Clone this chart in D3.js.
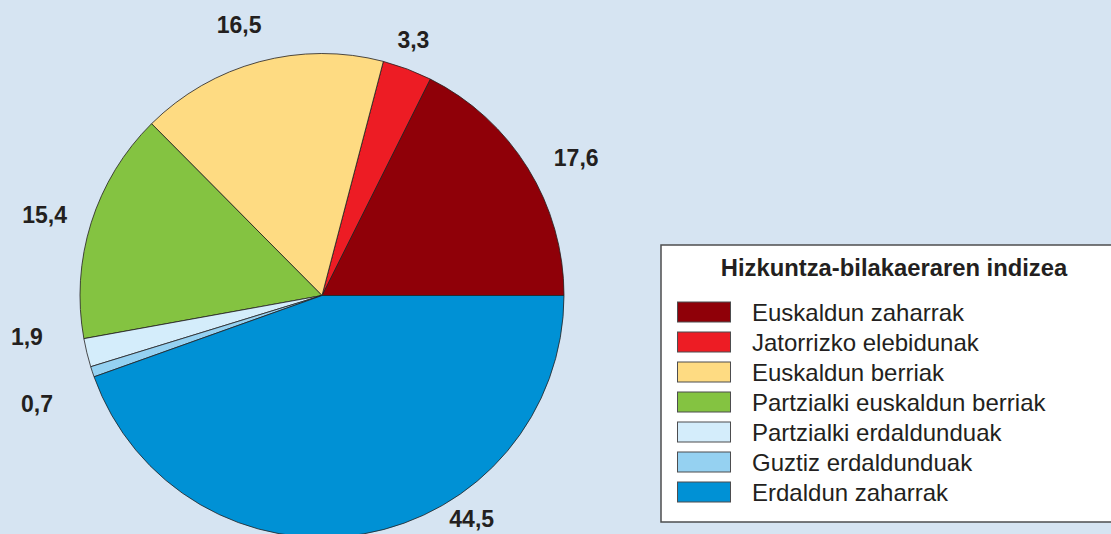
<!DOCTYPE html>
<html>
<head>
<meta charset="utf-8">
<script src="https://cdn.jsdelivr.net/npm/d3@7"></script>
<style>
  body { margin: 0; background: #d6e4f2; }
  svg { display: block; font-family: "Liberation Sans", Arial, sans-serif; }
</style>
</head>
<body>
<div id="chart"></div>
<script>
const categories = ['Euskaldun zaharrak', 'Jatorrizko elebidunak', 'Euskaldun berriak',
  'Partzialki euskaldun berriak', 'Partzialki erdaldunduak', 'Guztiz erdaldunduak', 'Erdaldun zaharrak'];
const values = [17.6, 3.3, 16.5, 15.4, 1.9, 0.7, 44.5];
const valueLabels = ['17,6', '3,3', '16,5', '15,4', '1,9', '0,7', '44,5'];
const legendTitle = 'Hizkuntza-bilakaeraren indizea';

const colors = ['#8f0008', '#ed1c24', '#fedb82', '#84c341', '#d4edfb', '#95d1f1', '#0091d5'];
// label placement: shift from slice middle (degrees, counter-clockwise) and distance from centre
const labelShift = [-3.3, 1, 2, 1.2, -5.7, 2.5, 24];
const labelDist = [289, 272, 283, 289, 298, 305, 269];

const w = 1111, h = 534;
const cx = 322, cy = 295.5, r = 242;

const svg = d3.select('#chart').append('svg')
  .attr('width', w)
  .attr('height', h);

const pie = d3.pie()
  .sort(null)
  .startAngle(Math.PI / 2)
  .endAngle(Math.PI / 2 - 2 * Math.PI)
  .value(d => d);

const arcs = pie(values);
const arc = d3.arc().innerRadius(0).outerRadius(r);

const g = svg.append('g').attr('transform', 'translate(' + cx + ',' + cy + ')');

g.selectAll('path')
  .data(arcs)
  .enter()
  .append('path')
  .attr('d', arc)
  .attr('fill', (d, i) => colors[i])
  .attr('stroke', '#231f20')
  .attr('stroke-width', 0.8)
  .attr('stroke-linejoin', 'round');

g.selectAll('text.val')
  .data(arcs)
  .enter()
  .append('text')
  .attr('class', 'val')
  .attr('x', (d, i) => {
    const a = (d.startAngle + d.endAngle) / 2 - labelShift[i] * Math.PI / 180;
    return Math.sin(a) * labelDist[i];
  })
  .attr('y', (d, i) => {
    const a = (d.startAngle + d.endAngle) / 2 - labelShift[i] * Math.PI / 180;
    return -Math.cos(a) * labelDist[i];
  })
  .attr('dy', '0.36em')
  .attr('text-anchor', 'middle')
  .style('font-size', '23px')
  .style('font-weight', 'bold')
  .style('fill', '#231f20')
  .text((d, i) => valueLabels[i]);

// legend
const lx = 661, ly = 245;
const legend = svg.append('g').attr('transform', 'translate(' + lx + ',' + ly + ')');

legend.append('rect')
  .attr('width', 480)
  .attr('height', 277)
  .attr('fill', '#ffffff')
  .attr('stroke', '#4d4d4f')
  .attr('stroke-width', 1.5);

legend.append('text')
  .attr('x', 233)
  .attr('y', 31)
  .attr('text-anchor', 'middle')
  .style('font-size', '23.8px')
  .style('font-weight', 'bold')
  .style('fill', '#231f20')
  .text(legendTitle);

const rowY = d3.scaleBand().domain(categories).range([57, 57 + 30 * categories.length]);

const item = legend.selectAll('g.item')
  .data(categories)
  .enter()
  .append('g')
  .attr('class', 'item')
  .attr('transform', d => 'translate(0,' + rowY(d) + ')');

item.append('rect')
  .attr('x', 16.5)
  .attr('width', 53)
  .attr('height', 20)
  .attr('fill', (d, i) => colors[i])
  .attr('stroke', '#4d4d4f')
  .attr('stroke-width', 1);

item.append('text')
  .attr('x', 91)
  .attr('y', 19)
  .style('font-size', '24px')
  .style('fill', '#231f20')
  .text(d => d);
</script>
</body>
</html>
